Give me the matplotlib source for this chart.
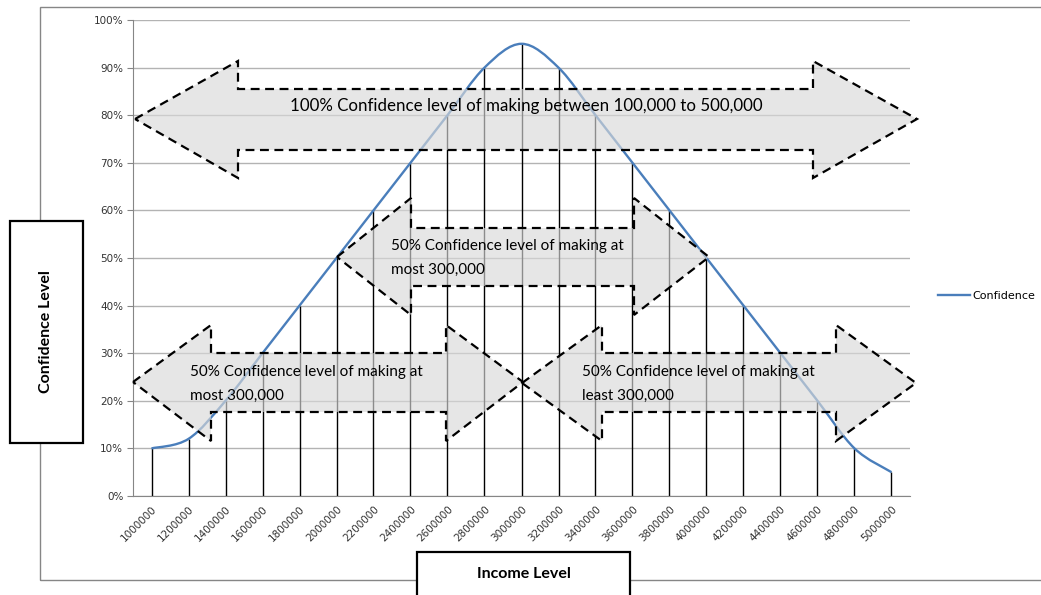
import matplotlib.pyplot as plt
import numpy as np
from matplotlib.patches import Polygon, Rectangle, PathPatch
from matplotlib.path import Path
from matplotlib.ticker import PercentFormatter

W, H = 1041, 595

income = [1000000, 1200000, 1400000, 1600000, 1800000, 2000000, 2200000,
          2400000, 2600000, 2800000, 3000000, 3200000, 3400000, 3600000,
          3800000, 4000000, 4200000, 4400000, 4600000, 4800000, 5000000]
confidence = [0.10, 0.12, 0.20, 0.30, 0.40, 0.50, 0.60, 0.70, 0.80, 0.90, 0.95,
              0.90, 0.80, 0.70, 0.60, 0.50, 0.40, 0.30, 0.20, 0.10, 0.05]

arrow_texts = [
    "100% Confidence level of making between 100,000 to 500,000",
    "50% Confidence level of making at\nmost 300,000",
    "50% Confidence level of making at\nmost 300,000",
    "50% Confidence level of making at\nleast 300,000",
]


def fpx(x, y):
    # pixel position (top-left origin) -> figure fraction
    return (x / W, 1 - y / H)


def double_arrow(xl, hl, hr, xr, ymid, htop, hbot, stop, sbot):
    pts = [(xl, ymid), (hl, htop), (hl, stop), (hr, stop), (hr, htop),
           (xr, ymid), (hr, hbot), (hr, sbot), (hl, sbot), (hl, hbot)]
    return [fpx(x, y) for x, y in pts]


def smooth_path(xs, ys):
    # bezier segments like a spreadsheet "smoothed line"
    p = np.column_stack([xs, ys]).astype(float)
    pad = np.vstack([p[0], p, p[-1]])
    verts = [p[0]]
    codes = [Path.MOVETO]
    for i in range(1, len(pad) - 2):
        p0, p1, p2, p3 = pad[i - 1], pad[i], pad[i + 1], pad[i + 2]
        verts += [p1 + (p2 - p0) / 6, p2 - (p3 - p1) / 6, p2]
        codes += [Path.CURVE4] * 3
    return Path(verts, codes)


fig = plt.figure(figsize=(W / 100, H / 100), dpi=100)
ax = fig.add_axes([133 / W, 1 - 496 / H, (910 - 133) / W, (496 - 20) / H])

x = np.arange(len(income))
ax.set_xlim(-0.5, len(income) - 0.5)
ax.set_ylim(0, 1)

ax.yaxis.set_major_locator(plt.MultipleLocator(0.1))
ax.yaxis.set_major_formatter(PercentFormatter(1.0, decimals=0))
ax.grid(axis="y", color="#b3b3b3", lw=1)
ax.set_axisbelow(True)

ax.vlines(x, 0, confidence, color="black", lw=1, zorder=2)
curve = PathPatch(smooth_path(x, confidence), fill=False, edgecolor="#4a7ebb",
                  lw=1.7, zorder=3)
ax.add_patch(curve)
ax.plot([], [], color="#4a7ebb", lw=1.7, label="Confidence")

ax.set_xticks(x)
ax.set_xticklabels([str(v) for v in income], rotation=45, ha="right",
                   rotation_mode="anchor")
ax.tick_params(axis="x", length=0, labelsize=7.5, labelcolor="#333333", pad=6)
ax.tick_params(axis="y", length=4, color="#868686", labelsize=7.5,
               labelcolor="#333333", pad=3)
for s in ["top", "right"]:
    ax.spines[s].set_visible(False)
for s in ["left", "bottom"]:
    ax.spines[s].set_color("#868686")

ax.legend(loc="center left", bbox_to_anchor=fpx(928, 296),
          bbox_transform=fig.transFigure, frameon=False, fontsize=8,
          handlelength=2.9, handletextpad=0.15)

# outer chart border
x0, y0 = fpx(40, 580)
x1, y1 = fpx(1050, 7)
fig.add_artist(Rectangle((x0, y0), x1 - x0, y1 - y0, transform=fig.transFigure,
                         fill=False, edgecolor="#868686", lw=1, zorder=0.5))

# dashed double arrows
arrows = [
    double_arrow(135, 238, 813, 917, 119, 61, 178, 89, 150),
    double_arrow(337, 411, 634, 709, 257, 198, 315, 228, 286),
    double_arrow(133, 211, 446, 523, 382, 325, 441, 353, 412),
    double_arrow(522, 602, 836, 916, 383, 325, 441, 353, 412),
]
for pts in arrows:
    fig.add_artist(Polygon(pts, closed=True, transform=fig.transFigure,
                           facecolor="#d9d9d9", alpha=0.65, edgecolor="none",
                           zorder=2))
    fig.add_artist(Polygon(pts, closed=True, transform=fig.transFigure,
                           fill=False, edgecolor="black", lw=1.6,
                           linestyle=(0, (4, 2.5)), joinstyle="miter", zorder=3))

txt = dict(family="Lato", color="black", zorder=4,
           linespacing=1.95, va="center", transform=fig.transFigure)
fig.text(*fpx(526, 106), arrow_texts[0], ha="center", fontsize=12.2, **txt)
fig.text(*fpx(391, 258), arrow_texts[1], ha="left", fontsize=11, **txt)
fig.text(*fpx(190, 384), arrow_texts[2], ha="left", fontsize=11, **txt)
fig.text(*fpx(582, 384), arrow_texts[3], ha="left", fontsize=11, **txt)

# axis title boxes
for (bx0, by0, bx1, by1) in [(10, 221, 83, 443), (417, 552, 630, 600)]:
    a0, b0 = fpx(bx0, by1)
    a1, b1 = fpx(bx1, by0)
    fig.add_artist(Rectangle((a0, b0), a1 - a0, b1 - b0,
                             transform=fig.transFigure, facecolor="white",
                             edgecolor="black", lw=1.6, zorder=5))
fig.text(*fpx(46, 332), "Confidence Level", rotation=90, ha="center",
         va="center", family="Lato", fontweight="bold", fontsize=11.5, zorder=6)
fig.text(*fpx(524, 574), "Income Level", ha="center", va="center",
         family="Lato", fontweight="bold", fontsize=11.5, zorder=6)

fig.savefig("out.png", dpi=100)
